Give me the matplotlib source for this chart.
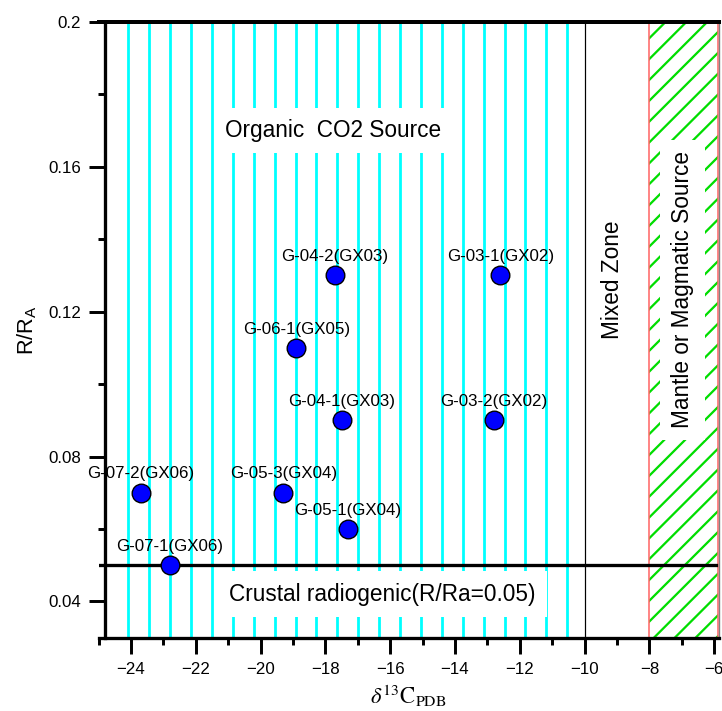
import matplotlib

matplotlib.use("Agg")
import matplotlib.pyplot as plt
import numpy as np
from matplotlib.ticker import FuncFormatter, MultipleLocator

plt.rcParams["font.family"] = ["Liberation Sans", "DejaVu Sans"]
plt.rcParams["mathtext.fontset"] = "stix"
plt.rcParams["hatch.linewidth"] = 1.3

# He isotope ratio vs carbon isotope composition of the gas samples
sample_labels = [
    "G-07-2(GX06)", "G-07-1(GX06)", "G-05-3(GX04)", "G-05-1(GX04)", "G-06-1(GX05)",
    "G-04-2(GX03)", "G-04-1(GX03)", "G-03-1(GX02)", "G-03-2(GX02)",
]
delta13c = [-23.7, -22.8, -19.3, -17.3, -18.9, -17.7, -17.5, -12.6, -12.8]
r_ra = [0.07, 0.05, 0.07, 0.06, 0.11, 0.13, 0.09, 0.13, 0.09]

# source field boundaries
ORGANIC_MAX = -10.5
MIXED_BOUNDARY = -10
MANTLE_MIN = -8
MANTLE_MAX = -5.88
CRUSTAL_RATIO = 0.05

# vertical stripe fill of the organic field
STRIPE_START = -24.08
STRIPE_STEP = 0.645

DPI = 125
W, H = 722, 711

fig = plt.figure(figsize=(W / DPI, H / DPI), dpi=DPI)
ax = fig.add_axes([98.6 / W, 1 - 637.7 / H, (719 - 98.6) / W, (637.7 - 21.7) / H])
ax.set_xlim(-25, -5.85)
ax.set_ylim(0.03, 0.2)

# source fields
stripes = np.arange(STRIPE_START, ORGANIC_MAX, STRIPE_STEP)
ax.vlines(stripes, 0, 1, transform=ax.get_xaxis_transform(), color="#00ffff",
          linewidth=1.6, zorder=0)
ax.axvspan(MANTLE_MIN, MANTLE_MAX, facecolor="none", edgecolor="#00dd00", linewidth=0,
           hatch="//", zorder=0)
ax.axvspan(MANTLE_MIN, MANTLE_MAX, facecolor="none", edgecolor="#ff6666", linewidth=0.9,
           zorder=1)
ax.axvline(MIXED_BOUNDARY, color="black", linewidth=0.7, zorder=2)
ax.axhline(CRUSTAL_RATIO, xmax=0.995, color="black", linewidth=1.9, zorder=2)

box = dict(facecolor="white", edgecolor="none", boxstyle="square,pad=0.5")
ax.text(-17.75, 0.17, "Organic  CO2 Source", fontsize=13, ha="center", va="center",
        bbox=box, zorder=3)
ax.text(-16.25, 0.042, "Crustal radiogenic(R/Ra=0.05)", fontsize=13, ha="center",
        va="center", bbox=box, zorder=3)
ax.text(-9.15, 0.1287, "Mixed Zone", fontsize=13, rotation=90, ha="center", va="center",
        zorder=3)
ax.text(-6.98, 0.126, "Mantle or Magmatic Source", fontsize=13, rotation=90,
        ha="center", va="center", bbox=box, zorder=3)

ax.scatter(delta13c, r_ra, s=115, color="#0000ff", edgecolors="black", linewidths=0.8,
           zorder=5)
for label, x, y in zip(sample_labels, delta13c, r_ra):
    ax.annotate(label, (x, y), xytext=(0, 6.5), textcoords="offset points",
                ha="center", va="bottom", fontsize=9.7, zorder=6)

# axes styling
ax.spines["left"].set_position(("data", -24.79))
ax.spines["top"].set_linewidth(2.3)
ax.spines["left"].set_linewidth(1.9)
ax.spines["bottom"].set_linewidth(1.9)
ax.spines["right"].set_linewidth(0.8)
ax.spines["right"].set_color("#808080")
for side in ("top", "left", "bottom"):
    ax.spines[side].set_zorder(7)

ax.xaxis.set_major_locator(MultipleLocator(2))
ax.xaxis.set_minor_locator(MultipleLocator(1))
ax.yaxis.set_major_locator(MultipleLocator(0.04))
ax.yaxis.set_minor_locator(MultipleLocator(0.02))
ax.yaxis.set_major_formatter(FuncFormatter(lambda v, pos: f"{v:g}"))
ax.tick_params(which="major", direction="out", length=9, width=1.7, labelsize=9.7, pad=5)
ax.tick_params(which="minor", direction="out", length=3.8, width=1.7)

ax.set_xlabel(r"$\delta^{13}\mathrm{C}_{\mathrm{PDB}}$", fontsize=13, labelpad=3.5)
ax.set_ylabel(r"R/R$_\mathregular{A}$", fontsize=12.5, labelpad=6)

fig.savefig("out.png", dpi=DPI)
